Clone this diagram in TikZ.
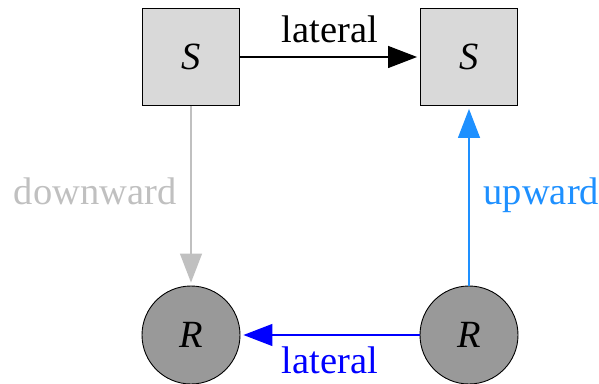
\documentclass[tikz,border=0pt]{standalone}
\usepackage{fontspec}
\setmainfont{Liberation Serif}
\usetikzlibrary{arrows.meta}

\definecolor{boxgray}{RGB}{217,217,217}
\definecolor{ballgray}{RGB}{153,153,153}
\definecolor{downgray}{RGB}{192,192,192}
\definecolor{upblue}{RGB}{30,144,255}

\tikzset{
  sbox/.style={draw, fill=boxgray, line width=0.9pt, minimum size=97pt, inner sep=0pt},
  rball/.style={circle, draw, fill=ballgray, line width=0.9pt, minimum size=98pt, inner sep=0pt},
  flow/.style={line width=1.3pt, shorten >=3pt, -{Triangle[length=29pt,width=22pt]}},
  lbl/.style={inner sep=0pt}
}

\begin{document}
\begin{tikzpicture}[x=1pt, y=1pt, font=\fontsize{38.5}{46}\selectfont]
        \useasboundingbox (0,0) rectangle (599,383);

        \node[sbox] (sL) at (191,326) {\textit{S}};
        \node[sbox] (sR) at (469,326) {\textit{S}};
        \node[rball] (rL) at (191,48) {\textit{R}};
        \node[rball] (rR) at (469,48) {\textit{R}};

        \draw [flow] (sL) -- (sR) node [lbl, midway, anchor=base, yshift=14pt] (latTop) {lateral};
        \draw [flow, downgray] (sL) -- (rL) node [lbl, midway, anchor=base east, xshift=-14pt, yshift=-8.5pt, text=downgray] (downLbl) {downward};
        \draw [flow, upblue] (rR) -- (sR) node [lbl, midway, anchor=base west, xshift=14pt, yshift=-9pt, text=upblue] (upLbl) {upward};
        \draw [flow, blue] (rR) -- (rL) node [lbl, midway, anchor=base, yshift=-38pt, text=blue] (latBot) {lateral};
      \end{tikzpicture}
\end{document}
